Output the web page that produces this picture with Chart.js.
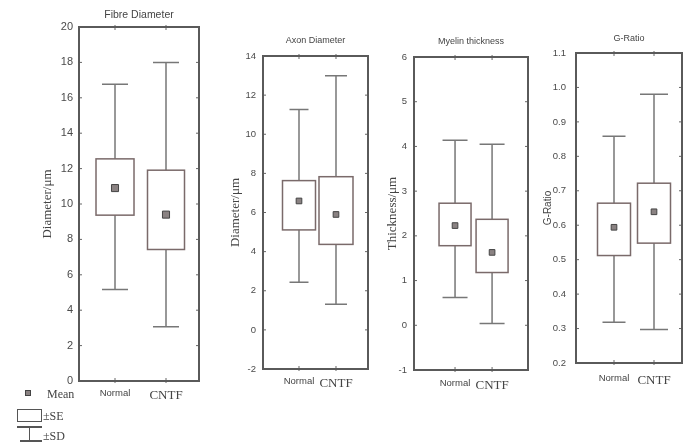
<!DOCTYPE html>
<html>
<head>
<meta charset="utf-8">
<script src="https://cdn.jsdelivr.net/npm/chart.js@4.4.1/dist/chart.umd.min.js"></script>
<style>
  body { margin: 0; background: #fff; }
  #wrap { position: relative; width: 693px; height: 446px; overflow: hidden; }
  canvas { position: absolute; top: 0; }
  .lg { position: absolute; font-family: 'Liberation Serif', serif; font-size: 12px; color: #444; line-height: 12px; }
  .sym { position: absolute; box-sizing: border-box; }
</style>
</head>
<body>
<div id="wrap">
  <canvas id="fibreChart" style="left:0px" width="205" height="405"></canvas>
  <canvas id="axonChart" style="left:228px" width="146" height="400"></canvas>
  <canvas id="myelinChart" style="left:380px" width="154" height="400"></canvas>
  <canvas id="gratioChart" style="left:538px" width="150" height="400"></canvas>

  <!-- legend -->
  <div class="sym" style="left:25px;top:390px;width:6px;height:6px;background:#8a8282;border:1px solid #444"></div>
  <div class="lg" style="left:47px;top:388px">Mean</div>
  <div class="sym" style="left:17px;top:409px;width:25px;height:13px;border:1.5px solid #555"></div>
  <div class="lg" style="left:43px;top:410px">±SE</div>
  <div class="sym" style="left:17px;top:426px;width:25px;height:1.5px;background:#555"></div>
  <div class="sym" style="left:28.5px;top:426px;width:1.5px;height:15px;background:#555"></div>
  <div class="sym" style="left:20px;top:440px;width:22px;height:1.5px;background:#555"></div>
  <div class="lg" style="left:43px;top:430px">±SD</div>
</div>
<script>
var categories = ['Normal', 'CNTF'];

// Fibre Diameter
var fibreMean = [10.9, 9.4];
var fibreSE = [[9.37, 12.55], [7.43, 11.91]];
var fibreSD = [[5.17, 16.76], [3.07, 18.0]];

// Axon Diameter
var axonMean = [6.59, 5.9];
var axonSE = [[5.11, 7.63], [4.37, 7.83]];
var axonSD = [[2.43, 11.27], [1.31, 12.99]];

// Myelin thickness
var myelinMean = [2.23, 1.63];
var myelinSE = [[1.78, 2.73], [1.18, 2.37]];
var myelinSD = [[0.62, 4.14], [0.04, 4.05]];

// G-Ratio
var gratioMean = [0.594, 0.639];
var gratioSE = [[0.512, 0.664], [0.548, 0.722]];
var gratioSD = [[0.318, 0.858], [0.297, 0.98]];

var SANS = "'Liberation Sans', Arial, sans-serif";
var SERIF = "'Liberation Serif', 'Times New Roman', serif";

// boxes, whiskers, frame and inner tick marks
var boxPlugin = {
    id: 'boxWhisker',
    beforeDatasetsDraw: function (chart, args, opts) {
        var ctx = chart.ctx, x = chart.scales.x, y = chart.scales.y;
        ctx.save();
        ctx.lineWidth = 1.5;
        for (var i = 0; i < opts.sd.length; i++) {
            var cx = x.getPixelForValue(i + 1);
            var sdLo = y.getPixelForValue(opts.sd[i][0]);
            var sdHi = y.getPixelForValue(opts.sd[i][1]);
            var seLo = y.getPixelForValue(opts.se[i][0]);
            var seHi = y.getPixelForValue(opts.se[i][1]);
            var cap = opts.capHalf[i], half = opts.boxHalf[i];

            ctx.strokeStyle = '#777';
            ctx.beginPath();
            ctx.moveTo(cx, sdLo); ctx.lineTo(cx, sdHi);
            ctx.moveTo(cx - cap, sdLo); ctx.lineTo(cx + cap, sdLo);
            ctx.moveTo(cx - cap, sdHi); ctx.lineTo(cx + cap, sdHi);
            ctx.stroke();

            ctx.fillStyle = '#fff';
            ctx.fillRect(cx - half, seHi, half * 2, seLo - seHi);
            ctx.strokeStyle = '#7a6a6a';
            ctx.strokeRect(cx - half, seHi, half * 2, seLo - seHi);
        }
        ctx.restore();
    },
    afterDraw: function (chart) {
        var ctx = chart.ctx, a = chart.chartArea, x = chart.scales.x, y = chart.scales.y;
        ctx.save();
        ctx.strokeStyle = '#666';
        ctx.lineWidth = 1;
        ctx.beginPath();
        y.ticks.forEach(function (t) {
            var py = y.getPixelForValue(t.value);
            ctx.moveTo(a.left, py); ctx.lineTo(a.left + 3, py);
            ctx.moveTo(a.right - 3, py); ctx.lineTo(a.right, py);
        });
        x.ticks.forEach(function (t) {
            var px = x.getPixelForValue(t.value);
            ctx.moveTo(px, a.top - 2); ctx.lineTo(px, a.top + 3);
            ctx.moveTo(px, a.bottom - 3); ctx.lineTo(px, a.bottom + 2);
        });
        ctx.stroke();
        ctx.lineWidth = 2;
        ctx.strokeStyle = '#5a5a5a';
        ctx.strokeRect(a.left, a.top, a.right - a.left, a.bottom - a.top);
        ctx.restore();
    }
};

function makePanel(id, p) {
    return new Chart(document.getElementById(id), {
        type: 'scatter',
        data: {
            datasets: [{
                data: p.mean.map(function (v, i) { return { x: i + 1, y: v }; }),
                pointStyle: 'rect',
                radius: p.markerR,
                backgroundColor: '#8a8282',
                borderColor: '#444',
                borderWidth: 1
            }]
        },
        plugins: [boxPlugin],
        options: {
            responsive: false,
            animation: false,
            layout: { padding: { left: 0, right: 6, top: 0, bottom: 0 } },
            plugins: {
                legend: { display: false },
                tooltip: { enabled: false },
                title: {
                    display: true,
                    text: p.title,
                    fullSize: false,
                    color: '#444',
                    font: { family: "'Liberation Sans Narrow', " + SANS, size: p.titleSize, weight: 'normal', lineHeight: 1 },
                    padding: { top: p.titleTop, bottom: p.titleBottom }
                },
                boxWhisker: { se: p.se, sd: p.sd, boxHalf: p.boxHalf, capHalf: p.capHalf }
            },
            scales: {
                x: {
                    type: 'linear',
                    min: p.xMin,
                    max: p.xMax,
                    grid: { display: false, drawTicks: false },
                    border: { display: false },
                    afterBuildTicks: function (s) { s.ticks = [{ value: 1 }, { value: 2 }]; },
                    afterFit: function (s) { s.height = p.xHeight; },
                    ticks: {
                        autoSkip: false,
                        maxRotation: 0,
                        padding: p.xPad,
                        color: '#444',
                        callback: function (v) { return categories[v - 1]; },
                        font: function (c) {
                            return c.index === 0 ? { family: SANS, size: 9.5 } : { family: SERIF, size: 13 };
                        }
                    }
                },
                y: {
                    min: p.yMin,
                    max: p.yMax,
                    grid: { display: false, drawTicks: false },
                    border: { display: false },
                    afterFit: function (s) { s.width = p.yWidth; },
                    ticks: {
                        stepSize: p.step,
                        padding: p.yPad,
                        color: '#4a4a4a',
                        font: { family: SANS, size: p.tickSize },
                        callback: function (v) { return p.step < 1 ? v.toFixed(1) : v; }
                    },
                    title: {
                        display: true,
                        text: p.yTitle,
                        color: '#444',
                        font: { family: p.yTitleFamily, size: p.yTitleSize },
                        padding: { top: p.yTitlePad, bottom: 0 }
                    }
                }
            }
        }
    });
}

makePanel('fibreChart', {
    title: 'Fibre Diameter', titleSize: 10.5, titleTop: 10, titleBottom: 6.5,
    mean: fibreMean, se: fibreSE, sd: fibreSD,
    boxHalf: [19, 18.5], capHalf: [13, 13], markerR: 5,
    xMin: 0.294, xMax: 2.647, xHeight: 24, xPad: 7,
    yMin: 0, yMax: 20, step: 2, yWidth: 79, yPad: 6, tickSize: 11,
    yTitle: 'Diameter/μm', yTitleFamily: SERIF, yTitleSize: 13, yTitlePad: 40
});

makePanel('axonChart', {
    title: 'Axon Diameter', titleSize: 9, titleTop: 36.5, titleBottom: 10.5,
    mean: axonMean, se: axonSE, sd: axonSD,
    boxHalf: [16.5, 17], capHalf: [9.5, 11], markerR: 4,
    xMin: 0.027, xMax: 2.865, xHeight: 31, xPad: 7,
    yMin: -2, yMax: 14, step: 2, yWidth: 35, yPad: 7, tickSize: 9.5,
    yTitle: 'Diameter/μm', yTitleFamily: SERIF, yTitleSize: 13, yTitlePad: 0
});

makePanel('myelinChart', {
    title: 'Myelin thickness', titleSize: 9, titleTop: 37.5, titleBottom: 10.5,
    mean: myelinMean, se: myelinSE, sd: myelinSD,
    boxHalf: [16, 16], capHalf: [12.5, 12.5], markerR: 4,
    xMin: -0.108, xMax: 2.97, xHeight: 30, xPad: 8,
    yMin: -1, yMax: 6, step: 1, yWidth: 34, yPad: 7, tickSize: 9.5,
    yTitle: 'Thickness/μm', yTitleFamily: SERIF, yTitleSize: 13, yTitlePad: 5
});

makePanel('gratioChart', {
    title: 'G-Ratio', titleSize: 9, titleTop: 34.5, titleBottom: 9.5,
    mean: gratioMean, se: gratioSE, sd: gratioSD,
    boxHalf: [16.5, 16.5], capHalf: [11.5, 14], markerR: 4,
    xMin: 0.05, xMax: 2.7, xHeight: 37, xPad: 10,
    yMin: 0.2, yMax: 1.1, step: 0.1, yWidth: 38, yPad: 10, tickSize: 9.5,
    yTitle: 'G-Ratio', yTitleFamily: SANS, yTitleSize: 10, yTitlePad: 4
});
</script>
</body>
</html>
